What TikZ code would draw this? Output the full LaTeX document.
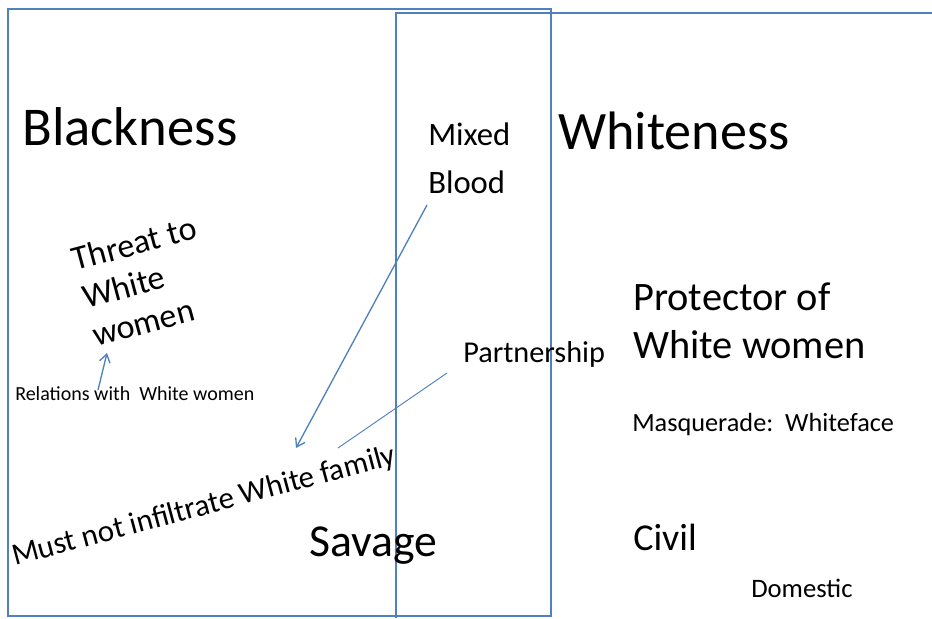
\documentclass[tikz,border=0pt]{standalone}
\usepackage{fontspec}
\setmainfont{Carlito}
\usetikzlibrary{arrows.meta}
\definecolor{boxblue}{RGB}{79,129,189}

\begin{document}
\begin{tikzpicture}[
                x = 0.75pt, y = -0.75pt,
                T/.style = {inner sep=0pt, anchor=base west, align=left},
                B/.style = {draw=boxblue, line width=1pt},
                A/.style = {draw=boxblue, line width=1pt, -{Straight Barb[length=6pt,width=8pt]}},
                L/.style = {draw=boxblue, line width=0.7pt}
                    ]
                \useasboundingbox (0,0) rectangle (932,618);
                \draw[B] (8,9) rectangle (551,616);
                \draw[B] (932,13) -- (396,13) -- (396,618);
                \begin{scope}[nodes=T]
                \node[font=\fontsize{41}{49}\selectfont] (blk) at (22,145) {Blackness};
                \node[font=\fontsize{40.6}{49}\selectfont] (wht) at (558,149) {Whiteness};
                \node[font=\fontsize{24.5}{36}\selectfont] (mix) at (428,193) {Mixed\\Blood};
                \node[font=\fontsize{25.5}{29.5}\selectfont, rotate=15] (thr) at (96,347) {Threat to\\White\\women};
                \node[font=\fontsize{15}{18}\selectfont] (rel) at (15,400) {Relations with\ \ White women};
                \node[font=\fontsize{30.3}{36}\selectfont] (pro) at (633,358) {Protector of\\White women};
                \node[font=\fontsize{22.7}{27}\selectfont] (par) at (463,362) {Partnership};
                \node[font=\fontsize{19.7}{24}\selectfont] (msq) at (632,431) {Masquerade:\ \ Whiteface};
                \node[font=\fontsize{23.2}{27}\selectfont, rotate=15] (mst) at (15,566) {Must not infiltrate White family};
                \node[font=\fontsize{34.3}{41}\selectfont] (sav) at (309,556) {Savage};
                \node[font=\fontsize{28.5}{34}\selectfont] (civ) at (633,550) {Civil};
                \node[font=\fontsize{20}{24}\selectfont] (dom) at (751,597) {Domestic};
                \end{scope}
                \coordinate (r1) at (98,390);
                \coordinate (r2) at (107,353);
                \coordinate (m1) at (427,205);
                \coordinate (m2) at (296,448);
                \coordinate (p1) at (447,373);
                \coordinate (p2) at (338,448);
                \draw[A] (r1) -- (r2);
                \draw[A] (m1) -- (m2);
                \draw[L] (p1) -- (p2);
            \end{tikzpicture}
\end{document}
